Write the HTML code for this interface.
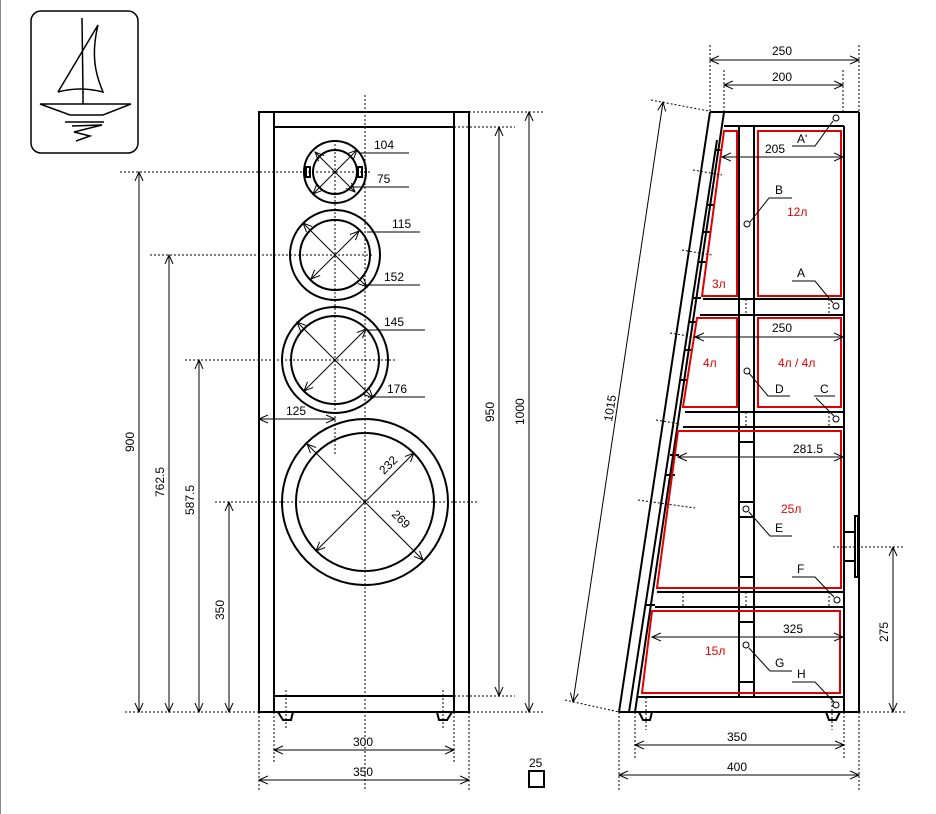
<!DOCTYPE html>
<html><head><meta charset="utf-8"><style>
html,body{margin:0;padding:0;background:#fff}
svg{display:block}
text{font-family:"Liberation Sans",sans-serif;font-size:12px;fill:#000}
.r{fill:#e00000}
</style></head><body>
<svg width="936" height="814" viewBox="0 0 936 814" xmlns="http://www.w3.org/2000/svg">
<defs>
<marker id="a" markerWidth="10" markerHeight="10" refX="9" refY="5" orient="auto-start-reverse" markerUnits="userSpaceOnUse">
<path d="M0,1 L9,5 L0,9" fill="none" stroke="#000" stroke-width="1"/></marker>
</defs>
<line x1="0.5" y1="0" x2="0.5" y2="814" stroke="#888"/>
<!-- logo -->
<rect x="31" y="11" width="107" height="142" rx="10" fill="none" stroke="#000" stroke-width="1.5"/>
<g fill="none" stroke="#000" stroke-width="1.5">
<line x1="82" y1="18" x2="83" y2="93"/>
<path d="M58,92 L98,25 Q92,50 96,70 Q98,80 103,92 Q80,86 58,92"/>
<line x1="83" y1="92" x2="83" y2="104"/>
<path d="M40,104 L131,104 L103,115 L70,115 Z"/>
<line x1="65" y1="122" x2="104" y2="122"/>
<path d="M72,126 L102,125 L74,132 L90,136 L76,141"/>
</g>
<!-- FRONT VIEW -->
<g fill="none" stroke="#000" stroke-width="2">
<rect x="259" y="112" width="210" height="600"/>
<line x1="274" y1="112" x2="274" y2="712"/>
<line x1="454" y1="112" x2="454" y2="712"/>
<line x1="274" y1="127" x2="454" y2="127"/>
<line x1="274" y1="696" x2="454" y2="696"/>
<path d="M278,712 L283,720 L291,720 L293,712"/>
<path d="M437,712 L439,720 L447,720 L452,712"/>
<circle cx="335" cy="172" r="31"/><circle cx="335" cy="172" r="22"/>
<rect x="306" y="167" width="4" height="10"/><rect x="358" y="167" width="4" height="10"/>
<circle cx="335" cy="255" r="45"/><circle cx="335" cy="255" r="35"/>
<circle cx="335" cy="360" r="53"/><circle cx="335" cy="360" r="44"/>
<circle cx="365" cy="502" r="83"/><circle cx="365" cy="502" r="69"/>
</g>
<g stroke="#000" stroke-width="1" stroke-dasharray="2,2" fill="none">
<line x1="365" y1="95" x2="365" y2="790"/>
<line x1="335" y1="140" x2="335" y2="455"/>
<line x1="120" y1="172" x2="370" y2="172"/>
<line x1="150" y1="255" x2="372" y2="255"/>
<line x1="185" y1="360" x2="395" y2="360"/>
<line x1="215" y1="502" x2="477" y2="502"/>
<line x1="125" y1="712" x2="545" y2="712"/>
<line x1="469" y1="112" x2="545" y2="112"/>
<line x1="454" y1="127" x2="515" y2="127"/>
<line x1="454" y1="696" x2="515" y2="696"/>
<line x1="259" y1="712" x2="259" y2="792"/>
<line x1="469" y1="712" x2="469" y2="792"/>
<line x1="274" y1="712" x2="274" y2="762"/>
<line x1="454" y1="712" x2="454" y2="762"/>
<line x1="286" y1="690" x2="286" y2="728"/>
<line x1="443" y1="690" x2="443" y2="728"/>
</g>
<g stroke="#000" stroke-width="1" fill="none" marker-start="url(#a)" marker-end="url(#a)">
<line x1="139" y1="172" x2="139" y2="712"/>
<line x1="169" y1="255" x2="169" y2="712"/>
<line x1="199" y1="360" x2="199" y2="712"/>
<line x1="229" y1="502" x2="229" y2="712"/>
<line x1="499" y1="127" x2="499" y2="696"/>
<line x1="529" y1="112" x2="529" y2="712"/>
<line x1="274" y1="750" x2="454" y2="750"/>
<line x1="259" y1="780" x2="469" y2="780"/>
<line x1="259" y1="419" x2="335" y2="419"/>
<line x1="315" y1="152" x2="355" y2="192"/>
<line x1="357" y1="150" x2="313" y2="194"/>
<line x1="303" y1="223" x2="367" y2="287"/>
<line x1="359" y1="231" x2="311" y2="279"/>
<line x1="297" y1="322" x2="373" y2="398"/>
<line x1="366" y1="329" x2="304" y2="391"/>
<line x1="307" y1="444" x2="423" y2="560"/>
<line x1="414" y1="453" x2="316" y2="551"/>
</g>
<g stroke="#000" stroke-width="1">
<line x1="360" y1="153" x2="409" y2="153"/>
<line x1="352" y1="187" x2="409" y2="187"/>
<line x1="367" y1="232" x2="420" y2="232"/>
<line x1="365" y1="285" x2="420" y2="285"/>
<line x1="365" y1="330" x2="425" y2="330"/>
<line x1="368" y1="397" x2="425" y2="397"/>
</g>
<text x="374" y="149">104</text><text x="377" y="183">75</text>
<text x="392" y="228">115</text><text x="384" y="281">152</text>
<text x="384" y="326">145</text><text x="387" y="393">176</text>
<text x="286" y="415">125</text>
<text transform="translate(384,475) rotate(-45)">232</text>
<text transform="translate(391,515) rotate(45)">269</text>
<text transform="translate(134,452) rotate(-90)">900</text>
<text transform="translate(164,497) rotate(-90)">762.5</text>
<text transform="translate(194,515) rotate(-90)">587.5</text>
<text transform="translate(224,620) rotate(-90)">350</text>
<text transform="translate(494,422) rotate(-90)">950</text>
<text transform="translate(524,425) rotate(-90)">1000</text>
<text x="353" y="746">300</text><text x="353" y="776">350</text>
<text x="529" y="767">25</text>
<rect x="529" y="771" width="15" height="16" fill="none" stroke="#000" stroke-width="2"/>
<!-- SIDE VIEW -->
<g fill="none" stroke="#000" stroke-width="2">
<line x1="710" y1="112" x2="859" y2="112"/>
<line x1="859" y1="112" x2="859" y2="712"/>
<line x1="844" y1="126" x2="844" y2="712"/>
<line x1="724" y1="126" x2="844" y2="126"/>
<line x1="619" y1="712" x2="859" y2="712"/>
<line x1="710" y1="112" x2="619" y2="712"/>
<line x1="724" y1="112" x2="635" y2="712"/>
<line x1="717" y1="140" x2="629" y2="712"/>
<path d="M715,150 L722,150 M707,205 L714,205 M703,232 L710,232 M698,262 L706,262 M693,298 L701,298 M689,322 L697,322 M684,350 L692,350 M680,380 L688,380 M670,455 L679,455 M665,475 L675,475 M645,605 L655,605"/>
<line x1="739" y1="126" x2="739" y2="697"/>
<line x1="754" y1="126" x2="754" y2="697"/>
<line x1="703" y1="299" x2="844" y2="299"/><line x1="700" y1="315" x2="844" y2="315"/>
<line x1="685" y1="412" x2="844" y2="412"/><line x1="683" y1="427" x2="844" y2="427"/>
<line x1="657" y1="592" x2="844" y2="592"/><line x1="655" y1="607" x2="844" y2="607"/>
<line x1="637" y1="697" x2="844" y2="697"/>
<line x1="739" y1="442" x2="754" y2="442"/><line x1="739" y1="502" x2="754" y2="502"/>
<line x1="739" y1="517" x2="754" y2="517"/><line x1="739" y1="577" x2="754" y2="577"/>
<line x1="739" y1="622" x2="754" y2="622"/><line x1="739" y1="682" x2="754" y2="682"/>
<line x1="844" y1="532" x2="855" y2="532"/><line x1="844" y1="561" x2="855" y2="561"/>
<rect x="855" y="516" width="3" height="61"/>
<path d="M639,712 L643,720 L650,720 L652,712"/>
<path d="M826,712 L829,720 L836,720 L840,712"/>
</g>
<g fill="none" stroke="#e00000" stroke-width="2">
<rect x="758" y="131" width="83" height="165"/>
<path d="M724,131 L737,131 L737,296 L702,296 Z"/>
<rect x="758" y="318" width="83" height="89"/>
<path d="M697,318 L737,318 L737,407 L683,407 Z"/>
<path d="M678,431 L841,431 L841,588 L657,588 Z"/>
<path d="M652,611 L840,611 L840,693 L642,693 Z"/>
</g>
<g stroke="#000" stroke-width="1" stroke-dasharray="2,2" fill="none">
<line x1="710" y1="45" x2="710" y2="112"/><line x1="724" y1="70" x2="724" y2="112"/>
<line x1="843" y1="70" x2="843" y2="112"/><line x1="859" y1="45" x2="859" y2="112"/>
<line x1="651" y1="100" x2="709" y2="111"/>
<line x1="565" y1="700" x2="619" y2="712"/>
<line x1="833" y1="547" x2="905" y2="547"/><line x1="859" y1="712" x2="905" y2="712"/>
<line x1="619" y1="712" x2="619" y2="790"/><line x1="859" y1="712" x2="859" y2="790"/>
<line x1="635" y1="712" x2="635" y2="760"/><line x1="844" y1="712" x2="844" y2="760"/>
<line x1="746" y1="299" x2="746" y2="315"/><line x1="746" y1="412" x2="746" y2="427"/>
<line x1="746" y1="592" x2="746" y2="607"/>
<line x1="829" y1="299" x2="829" y2="315"/><line x1="829" y1="412" x2="829" y2="427"/>
<line x1="829" y1="592" x2="829" y2="607"/><line x1="683" y1="592" x2="683" y2="607"/>
<line x1="832" y1="697" x2="832" y2="730"/><line x1="646" y1="697" x2="646" y2="730"/>
<line x1="693" y1="170" x2="722" y2="175"/><line x1="682" y1="250" x2="712" y2="255"/>
<line x1="670" y1="333" x2="700" y2="338"/><line x1="656" y1="420" x2="680" y2="424"/>
<line x1="638" y1="500" x2="695" y2="508"/>
</g>
<g stroke="#000" stroke-width="1" fill="none" marker-start="url(#a)" marker-end="url(#a)">
<line x1="710" y1="60" x2="859" y2="60"/>
<line x1="724" y1="85" x2="843" y2="85"/>
<line x1="722" y1="157" x2="843" y2="157"/>
<line x1="695" y1="337" x2="843" y2="337"/>
<line x1="678" y1="457" x2="843" y2="457"/>
<line x1="652" y1="637" x2="843" y2="637"/>
<line x1="635" y1="745" x2="844" y2="745"/>
<line x1="619" y1="775" x2="859" y2="775"/>
<line x1="893" y1="547" x2="893" y2="712"/>
<line x1="663" y1="102" x2="573" y2="702"/>
</g>
<g stroke="#000" stroke-width="1" fill="none">
<path d="M792,146 L815,146 L833,121"/><circle cx="836" cy="118" r="3"/>
<path d="M792,198 L769,198 L750,222"/><circle cx="747" cy="224" r="3"/>
<path d="M792,281 L815,281 L833,303"/><circle cx="836" cy="306" r="3"/>
<path d="M790,396 L768,396 L749,373"/><circle cx="747" cy="371" r="3"/>
<path d="M814,396 L835,396"/><path d="M816,398 L834,416"/><circle cx="836" cy="419" r="3"/>
<path d="M792,536 L770,536 L749,512"/><circle cx="746" cy="509" r="3"/>
<path d="M792,577 L815,577 L834,597"/><circle cx="837" cy="600" r="3"/>
<path d="M792,671 L770,671 L749,648"/><circle cx="746" cy="645" r="3"/>
<path d="M792,682 L815,682 L834,702"/><circle cx="836" cy="705" r="3"/>
</g>
<text x="772" y="55">250</text><text x="772" y="81">200</text>
<text x="765" y="153">205</text><text x="772" y="332">250</text>
<text x="793" y="453">281.5</text><text x="783" y="633">325</text>
<text x="727" y="741">350</text><text x="727" y="771">400</text>
<text transform="translate(888,642) rotate(-90)">275</text>
<text transform="translate(612,422) rotate(-81)">1015</text>
<text x="797" y="143">A'</text><text x="775" y="194">B</text>
<text x="797" y="277">A</text><text x="775" y="393">D</text>
<text x="820" y="393">C</text><text x="775" y="532">E</text>
<text x="797" y="573">F</text><text x="775" y="667">G</text>
<text x="797" y="678">H</text>
<text class="r" x="787" y="216">12л</text>
<text class="r" x="712" y="288">3л</text>
<text class="r" x="703" y="367">4л</text>
<text class="r" x="778" y="367">4л / 4л</text>
<text class="r" x="781" y="513">25л</text>
<text class="r" x="705" y="655">15л</text>
</svg>
</body></html>
